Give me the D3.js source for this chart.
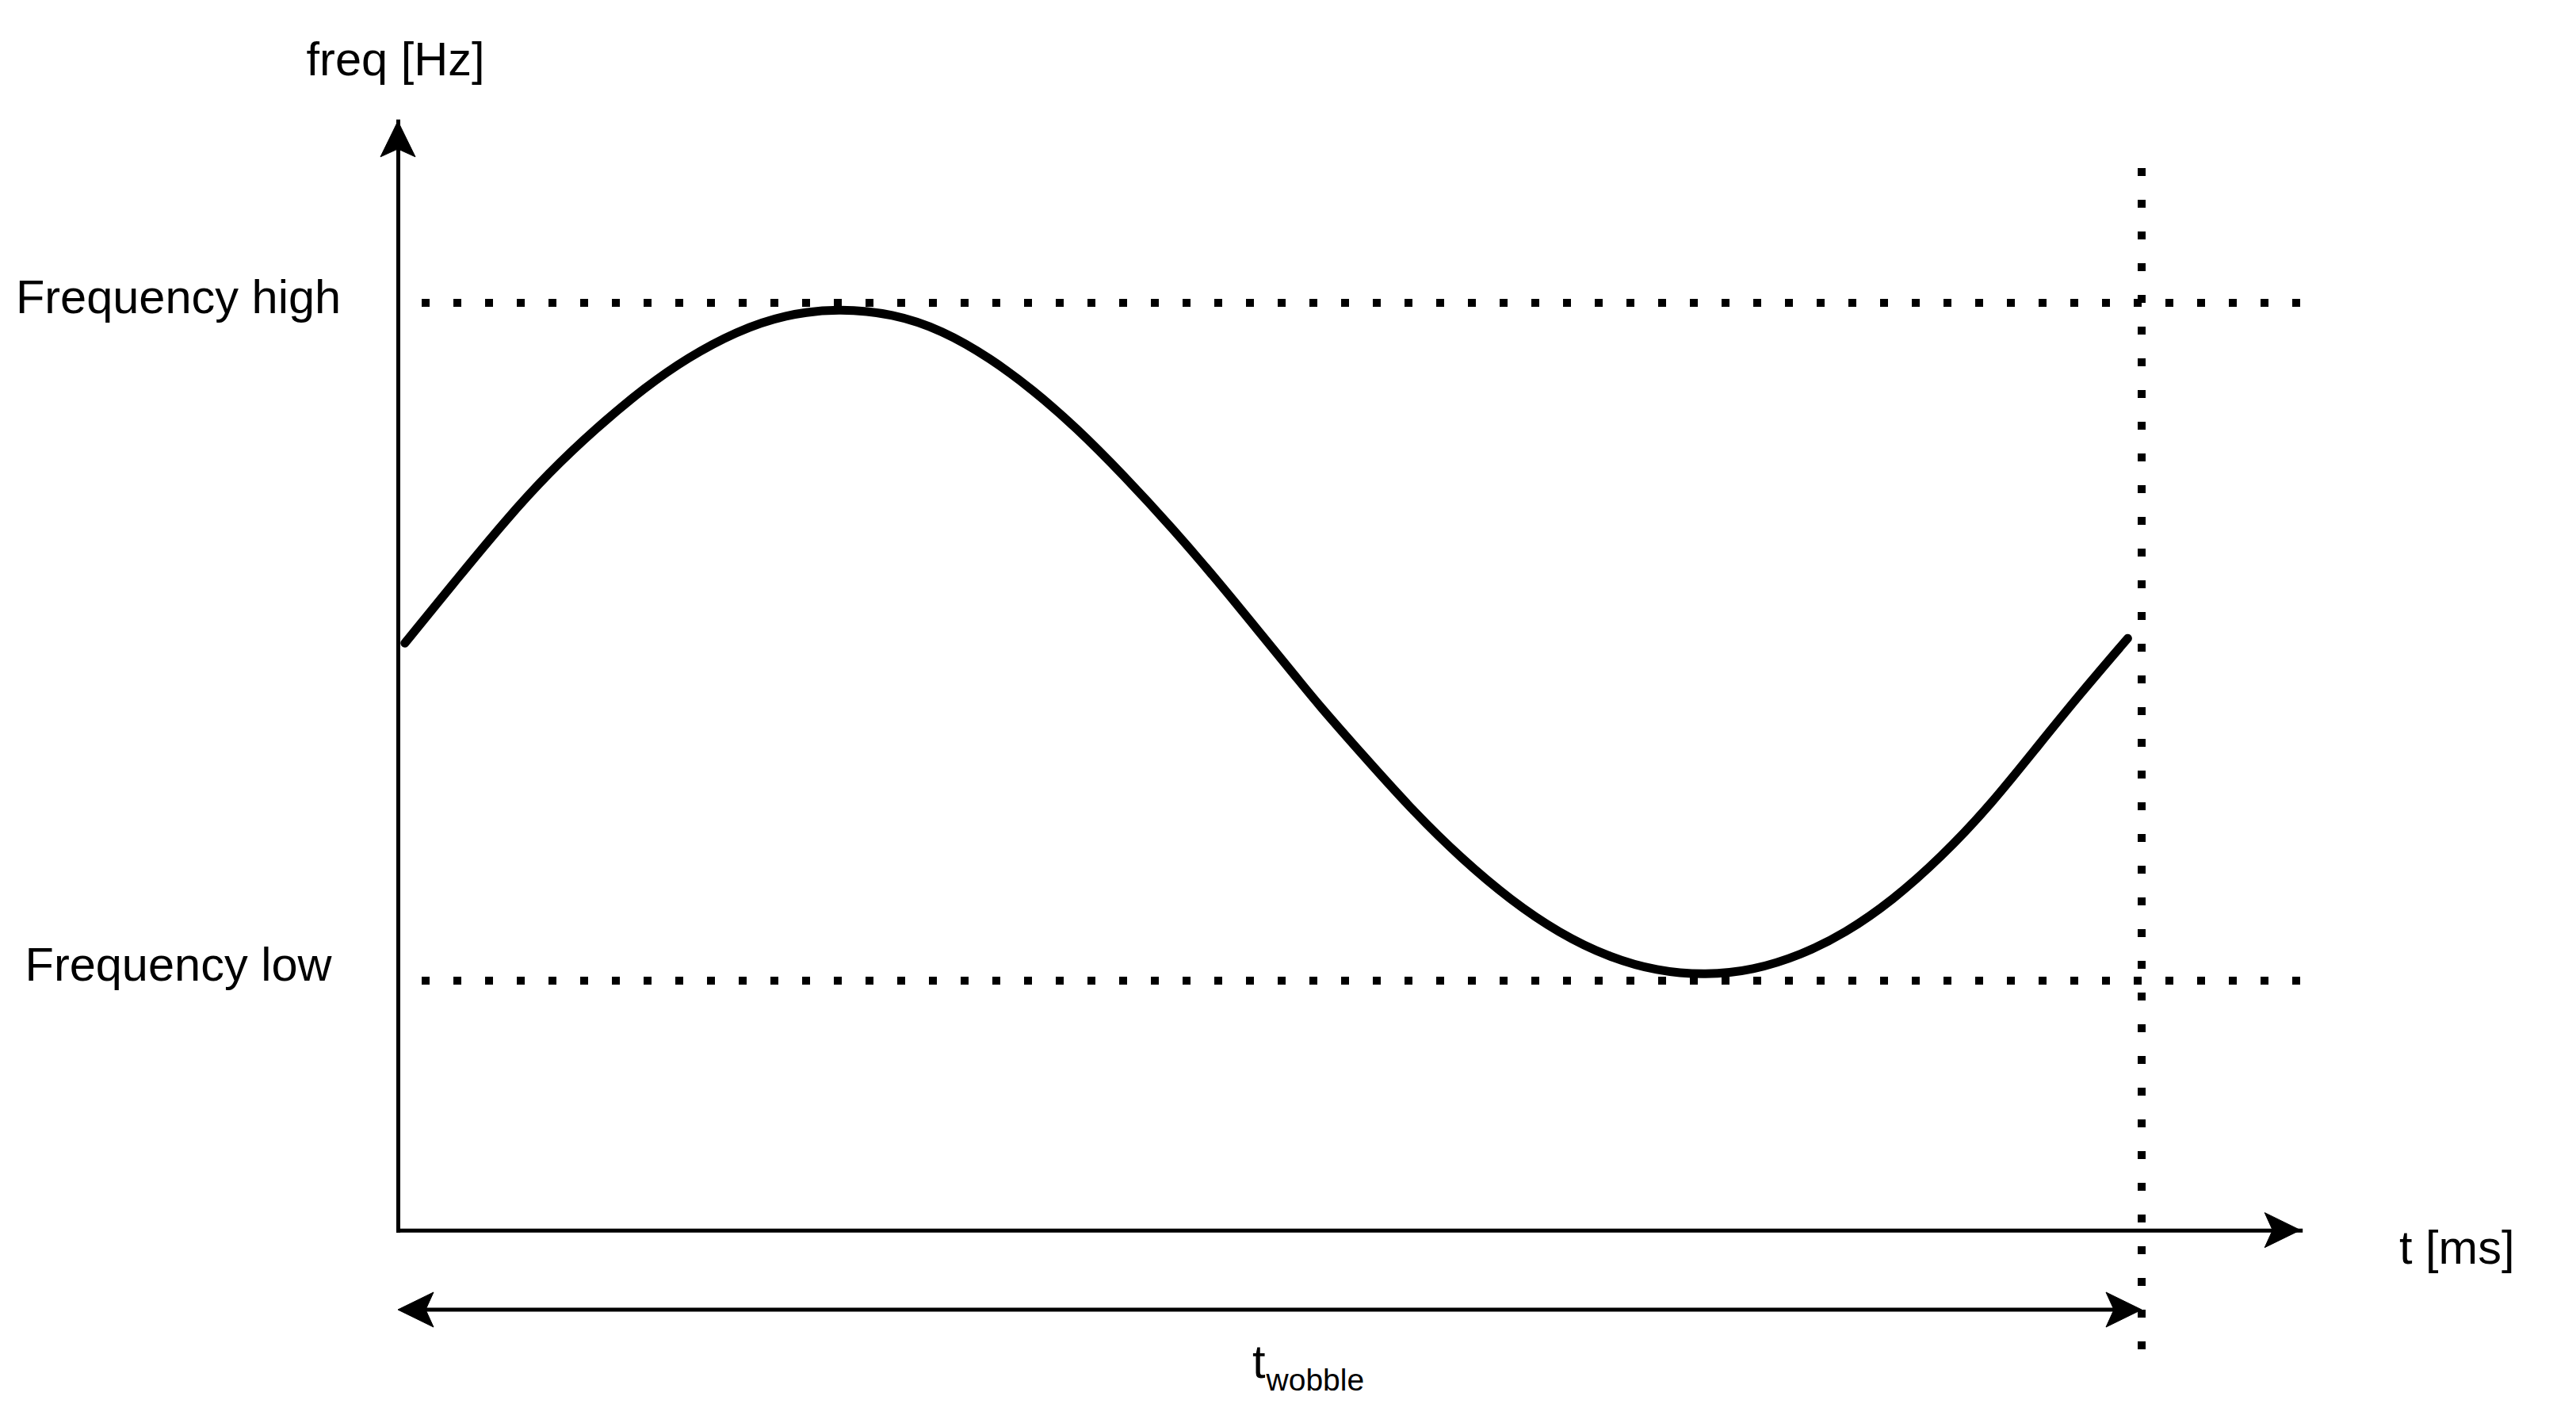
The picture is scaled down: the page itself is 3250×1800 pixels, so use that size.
<!DOCTYPE html>
<html>
<head>
<meta charset="utf-8">
<script src="https://cdn.jsdelivr.net/npm/d3@7"></script>
<style>
  html, body { margin: 0; padding: 0; background: #ffffff; }
  svg { display: block; }
  text { font-family: "Liberation Sans", Arial, Helvetica, sans-serif; fill: #000; }
</style>
</head>
<body>
<svg id="chart" width="3250" height="1800"></svg>
<script>
// ---- data ----
// time in percent of t_wobble (0 .. 100), frequency in percent between "low" (0) and "high" (100)
const curveTime = [0.4, 3.4, 6.2, 8.6, 11.4, 14.2, 16.6, 19.4, 22.2, 25.3, 28.4, 31.2, 34.0, 36.4, 38.9,
                   41.6, 44.4, 47.2, 49.6, 51.7, 52.7, 55.5, 58.3, 61.0, 63.8, 66.6, 69.4, 72.2, 75.0,
                   77.7, 80.5, 83.0, 85.7, 88.5, 91.3, 94.1, 96.5, 99.2];
const curveFreq = [49.8, 59.3, 68.0, 74.8, 81.6, 87.6, 91.9, 95.8, 98.3, 99.2, 98.4, 96.0, 91.8, 87.2, 81.6,
                   74.6, 66.8, 58.4, 50.8, 44.2, 41.0, 32.8, 24.8, 18.0, 11.9, 7.0, 3.5, 1.4, 0.8,
                   1.5, 3.8, 7.0, 11.8, 18.2, 25.8, 34.8, 42.4, 50.5];
const levelLabels = ["Frequency high", "Frequency low"];
const levelValues = [100, 0];
const tWobble = 100;
const xAxisMax = 109.1;   // extent of time axis (arrow tip)
const yAxisMin = -36.8;   // extent of frequency axis (origin)
const yAxisMax = 126.8;   // extent of frequency axis (arrow tip)
const yAxisLabel = "freq [Hz]";
const xAxisLabel = "t [ms]";
const spanLabelMain = "t";
const spanLabelSub = "wobble";

// ---- scales ----
const x = d3.scaleLinear().domain([0, tWobble]).range([502, 2702]);
const y = d3.scaleLinear().domain([0, 100]).range([1237, 382]);

const svg = d3.select("#chart");
svg.append("rect").attr("width", 3250).attr("height", 1800).attr("fill", "#fff");

function arrowHead(g, tipX, tipY, dir) {
  const L = 45, W = 22, N = 35;
  const [dx, dy] = dir;
  const px = -dy, py = dx;
  const bx = tipX - dx * L, by = tipY - dy * L;
  const nx = tipX - dx * N, ny = tipY - dy * N;
  g.append("path")
    .attr("d", `M${tipX},${tipY} L${bx + px * W},${by + py * W} L${nx},${ny} L${bx - px * W},${by - py * W} Z`)
    .attr("fill", "#000").attr("stroke", "#000").attr("stroke-width", 1).attr("stroke-linejoin", "miter");
}

// ---- reference (dotted) lines ----
const dots = svg.append("g");
levelValues.forEach(v => {
  dots.append("line")
    .attr("x1", x(0) + 30).attr("x2", x(xAxisMax))
    .attr("y1", y(v)).attr("y2", y(v))
    .attr("stroke", "#000").attr("stroke-width", 10)
    .attr("stroke-dasharray", "10 30");
});
dots.append("line")
  .attr("x1", x(tWobble)).attr("x2", x(tWobble))
  .attr("y1", 1702).attr("y2", 210)
  .attr("stroke", "#000").attr("stroke-width", 10)
  .attr("stroke-dasharray", "10 30");

// ---- axes (no ticks, just the domain lines) ----
const xAxisScale = d3.scaleLinear().domain([0, xAxisMax]).range([x(0), x(xAxisMax)]);
const yAxisScale = d3.scaleLinear().domain([yAxisMin, yAxisMax]).range([y(yAxisMin), y(yAxisMax)]);

const gx = svg.append("g").attr("transform", `translate(0,${y(yAxisMin)})`)
  .call(d3.axisBottom(xAxisScale).tickValues([]).tickSizeOuter(0));
const gy = svg.append("g").attr("transform", `translate(${x(0)},0)`)
  .call(d3.axisLeft(yAxisScale).tickValues([]).tickSizeOuter(0));
[gx, gy].forEach(g => g.select(".domain").attr("stroke", "#000").attr("stroke-width", 5).attr("stroke-linecap", "square"));

const heads = svg.append("g");
arrowHead(heads, x(xAxisMax), y(yAxisMin), [1, 0]);
arrowHead(heads, x(0), y(yAxisMax), [0, -1]);

// ---- t_wobble span arrow ----
const spanY = 1652;
svg.append("line")
  .attr("x1", x(0) + 20).attr("x2", x(tWobble) - 20)
  .attr("y1", spanY).attr("y2", spanY)
  .attr("stroke", "#000").attr("stroke-width", 5);
arrowHead(heads, x(0), spanY, [-1, 0]);
arrowHead(heads, x(tWobble), spanY, [1, 0]);

// ---- sine-like curve ----
const pts = curveTime.map((t, i) => [t, curveFreq[i]]);
const line = d3.line().x(d => x(d[0])).y(d => y(d[1])).curve(d3.curveBasis);
svg.append("path")
  .attr("d", line(pts))
  .attr("fill", "none").attr("stroke", "#000")
  .attr("stroke-width", 11).attr("stroke-linecap", "round").attr("stroke-linejoin", "round");

// ---- texts ----
const fs = 59.5;
svg.append("text").attr("x", 499).attr("y", 95).attr("text-anchor", "middle")
  .attr("font-size", fs).text(yAxisLabel);
svg.append("text").attr("x", 3027).attr("y", 1594).attr("text-anchor", "start")
  .attr("font-size", fs).text(xAxisLabel);
const levelBaselineOffset = [13, 0];
levelLabels.forEach((lab, i) => {
  svg.append("text").attr("x", 225).attr("y", y(levelValues[i]) + levelBaselineOffset[i])
    .attr("text-anchor", "middle").attr("font-size", fs).text(lab);
});
const tw = svg.append("text").attr("x", 1580).attr("y", 1738).attr("font-size", fs);
tw.append("tspan").text(spanLabelMain);
tw.append("tspan").attr("font-size", 39).attr("dy", 16).attr("dx", 1).text(spanLabelSub);
</script>
</body>
</html>
